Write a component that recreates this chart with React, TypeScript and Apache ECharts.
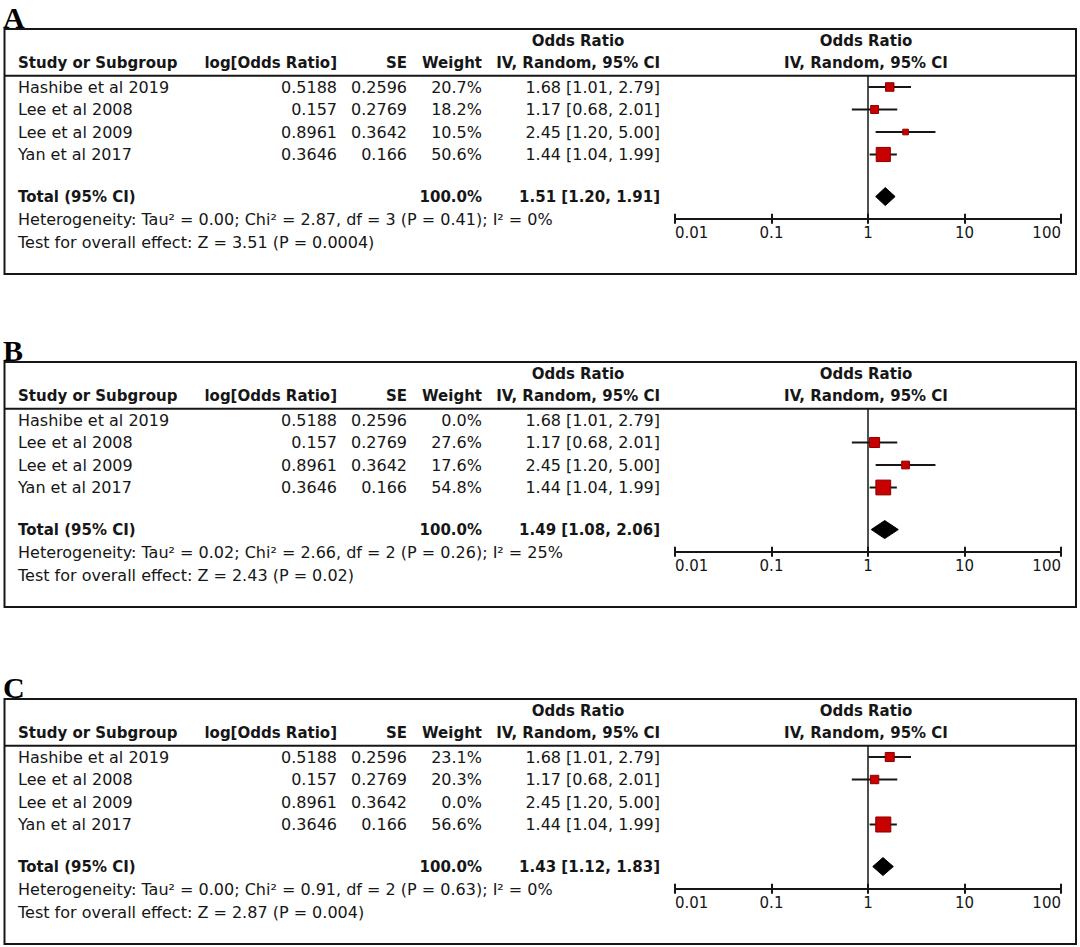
import React, { useEffect, useRef } from "react";
import * as echarts from "echarts";

// ---------------- data ----------------
const panelLabels = ["A", "B", "C"];
const studies = ["Hashibe et al 2019", "Lee et al 2008", "Lee et al 2009", "Yan et al 2017"];
const logOddsRatio = ["0.5188", "0.157", "0.8961", "0.3646"];
const standardError = ["0.2596", "0.2769", "0.3642", "0.166"];
const oddsRatio = [1.68, 1.17, 2.45, 1.44];
const ciLower = [1.01, 0.68, 1.2, 1.04];
const ciUpper = [2.79, 2.01, 5.0, 1.99];

const weightsA = [20.7, 18.2, 10.5, 50.6];
const weightsB = [0.0, 27.6, 17.6, 54.8];
const weightsC = [23.1, 20.3, 0.0, 56.6];
const panelWeights = [weightsA, weightsB, weightsC];

const totalOR = [1.51, 1.49, 1.43];
const totalLower = [1.2, 1.08, 1.12];
const totalUpper = [1.91, 2.06, 1.83];

const heterogeneity = [
  "Heterogeneity: Tau² = 0.00; Chi² = 2.87, df = 3 (P = 0.41); I² = 0%",
  "Heterogeneity: Tau² = 0.02; Chi² = 2.66, df = 2 (P = 0.26); I² = 25%",
  "Heterogeneity: Tau² = 0.00; Chi² = 0.91, df = 2 (P = 0.63); I² = 0%",
];
const overallEffect = [
  "Test for overall effect: Z = 3.51 (P = 0.0004)",
  "Test for overall effect: Z = 2.43 (P = 0.02)",
  "Test for overall effect: Z = 2.87 (P = 0.004)",
];
const tickLabels = ["0.01", "0.1", "1", "10", "100"];

// ---------------- layout ----------------
const PANEL_TOPS = [29, 362, 699];
const ROW0 = 58;
const ROW_STEP = 22.5;
const TOTAL_Y = 4.87;
const Y_MIN = -0.5;
const Y_MAX = 5.85;
const FONT = "'DejaVu Sans', sans-serif";
const INK = "#161616";

const fmt = (v: number) => v.toFixed(2);
const ciText = (o: number, l: number, h: number) => `${fmt(o)} [${fmt(l)}, ${fmt(h)}]`;

function txt(x: number, y: number, text: string, align: string, bold = false, size?: number) {
  return {
    type: "text",
    x,
    y,
    silent: true,
    style: {
      text,
      fill: INK,
      fontFamily: FONT,
      fontSize: size ?? (bold ? 15 : 16),
      fontWeight: bold ? "bold" : "normal",
      textAlign: align,
      align,
      textVerticalAlign: "middle",
      verticalAlign: "middle",
    },
  };
}

function buildOption() {
  const graphic: any[] = [];
  const grid: any[] = [];
  const xAxis: any[] = [];
  const yAxis: any[] = [];
  const series: any[] = [];

  PANEL_TOPS.forEach((top, p) => {
    const rowY = (i: number) => top + ROW0 + i * ROW_STEP;
    // panel letter
    graphic.push({
      type: "text",
      x: 3,
      y: top - 12,
      silent: true,
      style: {
        text: panelLabels[p],
        fill: "#000",
        fontFamily: "'Liberation Serif', serif",
        fontSize: 30,
        fontWeight: "bold",
        textAlign: "left",
        align: "left",
        textVerticalAlign: "middle",
        verticalAlign: "middle",
      },
    });
    // box and header line
    graphic.push({
      type: "rect",
      silent: true,
      shape: { x: 4.5, y: top, width: 1071.5, height: 245 },
      style: { fill: "none", stroke: INK, lineWidth: 2 },
    });
    graphic.push({
      type: "line",
      silent: true,
      shape: { x1: 4.5, y1: top + 46.75, x2: 1076, y2: top + 46.75 },
      style: { stroke: INK, lineWidth: 2 },
    });
    // headers
    graphic.push(txt(578, top + 12, "Odds Ratio", "center", true));
    graphic.push(txt(866, top + 12, "Odds Ratio", "center", true));
    graphic.push(txt(18, top + 34, "Study or Subgroup", "left", true));
    graphic.push(txt(337, top + 34, "log[Odds Ratio]", "right", true));
    graphic.push(txt(407, top + 34, "SE", "right", true));
    graphic.push(txt(482, top + 34, "Weight", "right", true));
    graphic.push(txt(660, top + 34, "IV, Random, 95% CI", "right", true));
    graphic.push(txt(866, top + 34, "IV, Random, 95% CI", "center", true));
    // study rows
    const w = panelWeights[p];
    studies.forEach((s, i) => {
      const y = rowY(i);
      graphic.push(txt(18, y, s, "left"));
      graphic.push(txt(337, y, logOddsRatio[i], "right"));
      graphic.push(txt(407, y, standardError[i], "right"));
      graphic.push(txt(482, y, w[i].toFixed(1) + "%", "right"));
      graphic.push(txt(660, y, ciText(oddsRatio[i], ciLower[i], ciUpper[i]), "right"));
    });
    // total
    const ty = rowY(TOTAL_Y);
    graphic.push(txt(18, ty, "Total (95% CI)", "left", true));
    graphic.push(txt(482, ty, "100.0%", "right", true));
    graphic.push(txt(660, ty, ciText(totalOR[p], totalLower[p], totalUpper[p]), "right", true));
    graphic.push(txt(18, top + 190, heterogeneity[p], "left"));
    graphic.push(txt(18, top + 213, overallEffect[p], "left"));

    // coordinate system
    const gridTop = top + ROW0 + Y_MIN * ROW_STEP;
    grid.push({
      left: 675,
      width: 386,
      top: gridTop,
      height: (Y_MAX - Y_MIN) * ROW_STEP,
      containLabel: false,
    });
    const baseX = {
      type: "log",
      logBase: 10,
      min: 0.01,
      max: 100,
      gridIndex: p,
      position: "bottom",
      splitLine: { show: false },
      minorTick: { show: false },
    };
    xAxis.push({
      ...baseX,
      axisLine: { show: true, onZero: false, lineStyle: { color: INK, width: 2 } },
      axisTick: { show: true, inside: false, length: 5, lineStyle: { color: INK, width: 2 } },
      axisLabel: {
        show: true,
        color: INK,
        fontFamily: FONT,
        fontSize: 15,
        margin: 7,
        alignMinLabel: "left",
        alignMaxLabel: "right",
        formatter: (v: number) => {
          const i = Math.round(Math.log10(v)) + 2;
          return tickLabels[i] ?? "";
        },
      },
    });
    xAxis.push({
      ...baseX,
      axisLine: { show: false, onZero: false },
      axisTick: { show: true, inside: true, length: 5, lineStyle: { color: INK, width: 2 } },
      axisLabel: { show: false },
    });
    yAxis.push({
      type: "value",
      gridIndex: p,
      min: Y_MIN,
      max: Y_MAX,
      inverse: true,
      show: false,
    });

    const xi = p * 2;
    // reference line at OR = 1
    series.push({
      type: "custom",
      xAxisIndex: xi,
      yAxisIndex: p,
      silent: true,
      data: [[1, 0]],
      renderItem: (params: any, api: any) => {
        const c = api.coord([api.value(0), api.value(1)]);
        const cs = params.coordSys;
        return {
          type: "line",
          shape: { x1: c[0], y1: cs.y, x2: c[0], y2: cs.y + cs.height },
          style: { stroke: INK, lineWidth: 1.5 },
        };
      },
    });
    // studies
    const studyData = studies
      .map((_, i) => [oddsRatio[i], i, ciLower[i], ciUpper[i], w[i]])
      .filter((d) => d[4] > 0);
    series.push({
      type: "custom",
      xAxisIndex: xi,
      yAxisIndex: p,
      silent: true,
      data: studyData,
      renderItem: (params: any, api: any) => {
        const y = api.value(1);
        const c = api.coord([api.value(0), y]);
        const l = api.coord([api.value(2), y]);
        const h = api.coord([api.value(3), y]);
        const s = 2.2 * Math.sqrt(api.value(4)) - 1.5;
        return {
          type: "group",
          children: [
            {
              type: "line",
              shape: { x1: l[0], y1: l[1], x2: h[0], y2: h[1] },
              style: { stroke: INK, lineWidth: 2 },
            },
            {
              type: "rect",
              shape: { x: c[0] - s / 2, y: c[1] - s / 2, width: s, height: s },
              style: { fill: "#c80000", stroke: "#8a0000", lineWidth: 1 },
            },
          ],
        };
      },
    });
    // pooled diamond
    series.push({
      type: "custom",
      xAxisIndex: xi,
      yAxisIndex: p,
      silent: true,
      data: [[totalOR[p], TOTAL_Y, totalLower[p], totalUpper[p]]],
      renderItem: (params: any, api: any) => {
        const y = api.value(1);
        const c = api.coord([api.value(0), y]);
        const l = api.coord([api.value(2), y]);
        const h = api.coord([api.value(3), y]);
        return {
          type: "polygon",
          shape: {
            points: [
              [l[0], c[1]],
              [c[0], c[1] - 9],
              [h[0], c[1]],
              [c[0], c[1] + 9],
            ],
          },
          style: { fill: "#000", stroke: "#000", lineWidth: 1 },
        };
      },
    });
  });

  return {
    animation: false,
    backgroundColor: "#ffffff",
    grid,
    xAxis,
    yAxis,
    series,
    graphic: { elements: graphic },
  };
}

export default function App() {
  const ref = useRef<HTMLDivElement>(null);
  useEffect(() => {
    if (!ref.current) return;
    const chart = echarts.init(ref.current, undefined, { renderer: "svg" });
    chart.setOption(buildOption() as any);
    return () => chart.dispose();
  }, []);
  return (
    <div
      ref={ref}
      style={{ position: "absolute", left: 0, top: 0, width: 1080, height: 947, background: "#fff" }}
    />
  );
}
